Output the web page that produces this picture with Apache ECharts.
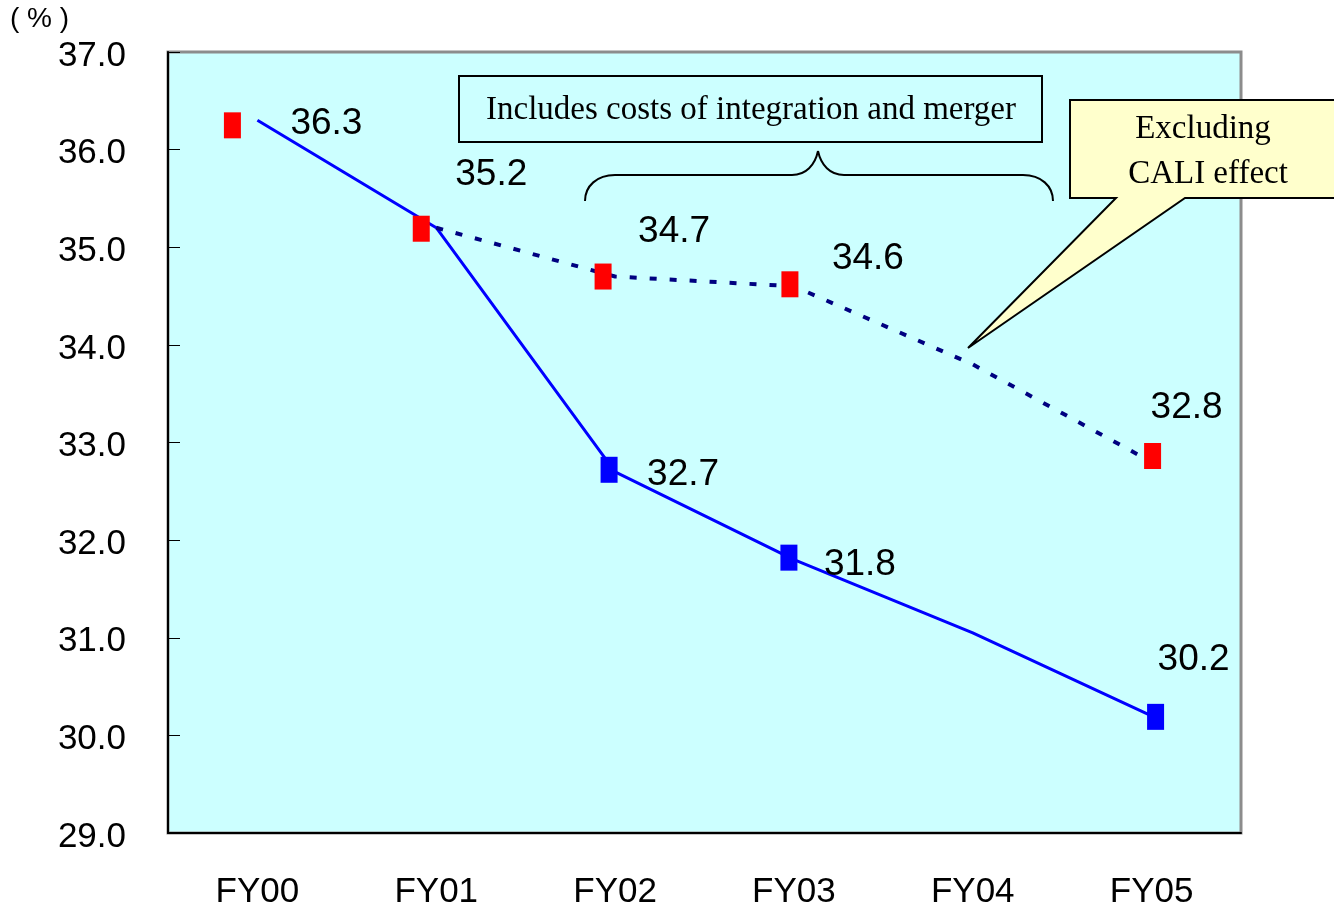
<!DOCTYPE html>
<html>
<head>
<meta charset="utf-8">
<script src="https://cdn.jsdelivr.net/npm/echarts@6/dist/echarts.min.js"></script>
<style>
  html, body { margin: 0; padding: 0; background: #fff; }
  #chart { width: 1334px; height: 913px; }
</style>
</head>
<body>
<div id="chart"></div>
<script>
// Fiscal years on the horizontal axis
const categories = ['FY00', 'FY01', 'FY02', 'FY03', 'FY04', 'FY05'];
// Ratio as reported (solid blue line), in %
const reported = [36.3, 35.2, 32.7, 31.8, 31.05, 30.2];
// Ratio excluding CALI effect (dotted line), in %
const excludingCali = [null, 35.2, 34.7, 34.6, 33.8, 32.8];
// Red square markers with value labels
const redMarks = [36.3, 35.2, 34.7, 34.6, null, 32.8];
// Blue square markers with value labels
const blueMarks = [null, null, 32.7, 31.8, null, 30.2];
// Value axis range
const yMin = 29, yMax = 37, yStep = 1;

// Presentation: small nudges of markers and label placement (px)
const redNudge = [[-25, 5], [-15, 1], [-12, 0], [-4, -2], null, [1, -6]];
const blueNudge = [null, null, [-6, -2], [-5, -2], null, [4, 1]];
const redLabelShift = [[69, 3], [55, -53], [59, -45], [74, -28], null, [35, -54]];
const blueLabelShift = [null, null, [68, 3], [66, 5], null, [42, -56]];

const sans = '"Liberation Sans", Arial, sans-serif';
const serif = '"Liberation Serif", "Times New Roman", serif';

function markData(values, nudge) {
  return values.map((v, i) => v == null ? null : { value: v, symbolOffset: nudge[i] });
}
function labelData(values, shift) {
  return values.map((v, i) => v == null ? null : { value: v, label: { offset: shift[i] } });
}

// brace pieces (bezier segments and straight runs)
const braceStyle = { fill: 'none', stroke: '#000', lineWidth: 2 };
function curve(x1, y1, c1x, c1y, c2x, c2y, x2, y2) {
  return {
    type: 'bezierCurve', z: 100,
    shape: { x1: x1, y1: y1, cpx1: c1x, cpy1: c1y, cpx2: c2x, cpy2: c2y, x2: x2, y2: y2 },
    style: braceStyle
  };
}
function segment(x1, y1, x2, y2) {
  return { type: 'line', z: 100, shape: { x1: x1, y1: y1, x2: x2, y2: y2 }, style: braceStyle };
}

const valueLabel = {
  show: true, position: 'inside', align: 'center', verticalAlign: 'middle',
  color: '#000', fontFamily: sans, fontSize: 37,
  formatter: p => p.value.toFixed(1)
};

const chart = echarts.init(document.getElementById('chart'), null, { renderer: 'canvas' });

chart.setOption({
  animation: false,
  backgroundColor: '#ffffff',
  grid: {
    left: 168, right: 93, top: 52, bottom: 80,
    show: true,
    backgroundColor: '#ccffff',
    borderColor: '#8c8c8c',
    borderWidth: 3
  },
  xAxis: {
    type: 'category',
    data: categories,
    boundaryGap: true,
    axisLine: { lineStyle: { color: '#000', width: 2 } },
    axisTick: { inside: true, length: 10, lineStyle: { color: '#000', width: 1 } },
    axisLabel: { color: '#000', fontFamily: sans, fontSize: 35, margin: 42 },
    splitLine: { show: false }
  },
  yAxis: {
    type: 'value',
    min: yMin, max: yMax, interval: yStep,
    axisLine: { show: true, lineStyle: { color: '#000', width: 2 } },
    axisTick: { show: true, inside: true, length: 12, lineStyle: { color: '#000', width: 1 } },
    axisLabel: {
      color: '#000', fontFamily: sans, fontSize: 35, margin: 42,
      formatter: v => '{t|' + v.toFixed(1) + '}',
      rich: {
        t: { color: '#000', fontFamily: sans, fontSize: 35, padding: [8, 0, 0, 0] }
      }
    },
    splitLine: { show: false }
  },
  series: [
    {
      name: 'Reported',
      type: 'line',
      data: reported,
      showSymbol: false,
      lineStyle: { color: '#0000ff', width: 3 },
      z: 3
    },
    {
      name: 'Excluding CALI effect',
      type: 'line',
      data: excludingCali,
      showSymbol: false,
      lineStyle: { color: '#000080', width: 4, type: [7, 13] },
      z: 3
    },
    {
      name: 'Red marks',
      type: 'scatter',
      data: markData(redMarks, redNudge),
      symbol: 'rect',
      symbolSize: [17, 26],
      itemStyle: { color: '#ff0000', opacity: 1 },
      z: 5
    },
    {
      name: 'Blue marks',
      type: 'scatter',
      data: markData(blueMarks, blueNudge),
      symbol: 'rect',
      symbolSize: [17, 26],
      itemStyle: { color: '#0000ff', opacity: 1 },
      z: 5
    },
    {
      name: 'Red labels',
      type: 'scatter',
      data: labelData(redMarks, redLabelShift),
      symbolSize: 1,
      itemStyle: { color: 'rgba(0,0,0,0)', opacity: 1 },
      label: valueLabel,
      z: 6
    },
    {
      name: 'Blue labels',
      type: 'scatter',
      data: labelData(blueMarks, blueLabelShift),
      symbolSize: 1,
      itemStyle: { color: 'rgba(0,0,0,0)', opacity: 1 },
      label: valueLabel,
      z: 6
    }
  ],
  graphic: [
    // unit label
    {
      type: 'text', left: 10, top: 5, z: 100,
      style: { text: '( % )', fill: '#000', fontFamily: sans, fontSize: 28 }
    },
    // boxed note
    {
      type: 'rect', z: 100,
      shape: { x: 459, y: 76, width: 583, height: 66 },
      style: { fill: 'none', stroke: '#000', lineWidth: 2 }
    },
    {
      type: 'text', z: 101, x: 751, y: 110,
      style: {
        text: 'Includes costs of integration and merger',
        fill: '#000', fontFamily: serif, fontSize: 33, align: 'center', verticalAlign: 'middle'
      }
    },
    // curly brace under the note
    curve(585, 201, 585, 186, 597, 175, 615, 175),
    segment(615, 175, 792, 175),
    curve(792, 175, 806, 175, 815, 165, 818, 151),
    curve(818, 151, 821, 165, 830, 175, 844, 175),
    segment(844, 175, 1023, 175),
    curve(1023, 175, 1041, 175, 1053, 186, 1053, 201),
    // speech callout
    {
      type: 'polygon', z: 100,
      shape: {
        points: [[1070, 100], [1345, 100], [1345, 198], [1185, 198], [968, 348], [1116, 198], [1070, 198]]
      },
      style: { fill: '#ffffcc', stroke: '#000', lineWidth: 2 }
    },
    {
      type: 'text', z: 101, x: 1203, y: 129,
      style: { text: 'Excluding', fill: '#000', fontFamily: serif, fontSize: 33, align: 'center', verticalAlign: 'middle' }
    },
    {
      type: 'text', z: 101, x: 1208, y: 174,
      style: { text: 'CALI effect', fill: '#000', fontFamily: serif, fontSize: 33, align: 'center', verticalAlign: 'middle' }
    }
  ]
});
</script>
</body>
</html>
